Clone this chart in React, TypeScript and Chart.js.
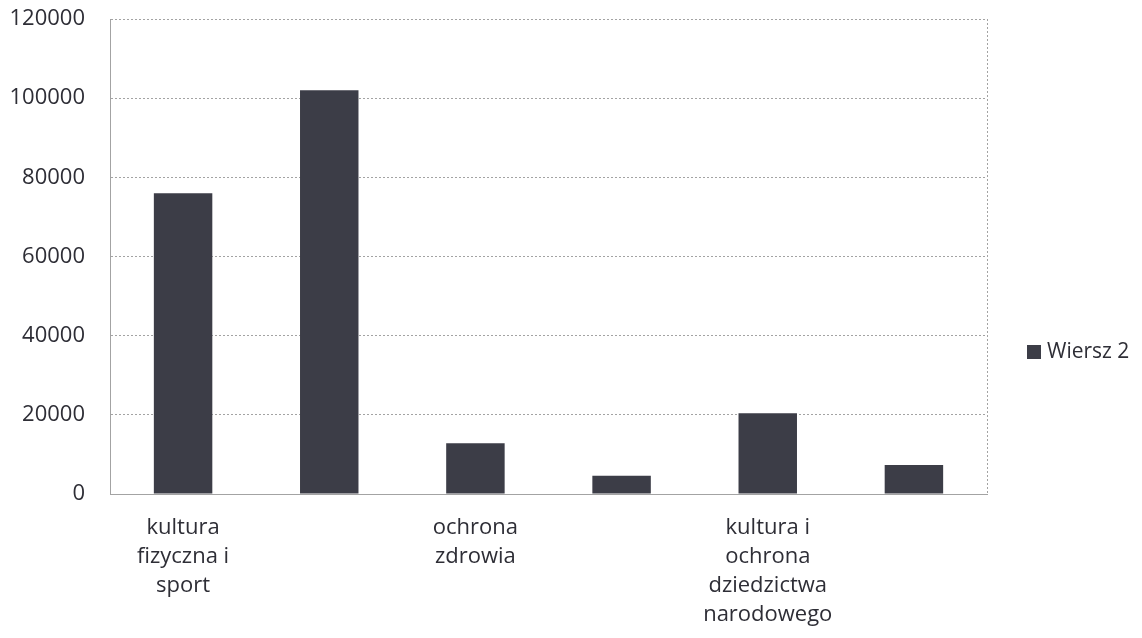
import React, { useEffect, useRef } from 'react';
import { Chart, registerables } from 'chart.js';

Chart.register(...registerables);

const categories: string[][] = [
  ['kultura', 'fizyczna i', 'sport'],
  [''],
  ['ochrona', 'zdrowia'],
  [''],
  ['kultura i', 'ochrona', 'dziedzictwa', 'narodowego'],
  [''],
];
const seriesName = 'Wiersz 2';
const values = [76000, 102000, 12800, 4600, 20400, 7300];
const yMax = 120000;
const yStep = 20000;

const FONT = '"Open Sans", sans-serif';
const BAR_COLOR = '#3c3d47';
const GRID_COLOR = '#a3a3a3';
const TEXT_COLOR = '#2e2e36';

// dotted frame on the right side + legend on the right
const framePlugin = {
  id: 'frameAndLegend',
  afterDraw(chart: Chart) {
    const { ctx, chartArea } = chart;
    ctx.save();
    ctx.strokeStyle = GRID_COLOR;
    ctx.lineWidth = 1;
    ctx.setLineDash([2, 2]);
    ctx.beginPath();
    ctx.moveTo(chartArea.right + 0.5, chartArea.top);
    ctx.lineTo(chartArea.right + 0.5, chartArea.bottom);
    ctx.stroke();
    ctx.setLineDash([]);

    const label = chart.data.datasets[0].label || '';
    const cy = 352;
    ctx.fillStyle = BAR_COLOR;
    ctx.fillRect(1027, cy - 7, 14, 14);
    ctx.fillStyle = TEXT_COLOR;
    ctx.font = `21px ${FONT}`;
    ctx.textBaseline = 'middle';
    ctx.textAlign = 'left';
    ctx.fillText(label, 1047, cy);
    ctx.restore();
  },
};

const App = () => {
  const canvasRef = useRef<HTMLCanvasElement>(null);
  const chartInstance = useRef<Chart | null>(null);

  useEffect(() => {
    if (!canvasRef.current) return;
    const ctx = canvasRef.current.getContext('2d');
    if (!ctx) return;

    if (chartInstance.current) {
      chartInstance.current.destroy();
      chartInstance.current = null;
    }

    chartInstance.current = new Chart(ctx, {
      type: 'bar',
      data: {
        labels: categories,
        datasets: [{
          label: seriesName,
          data: values,
          backgroundColor: BAR_COLOR,
          borderWidth: 0,
          barPercentage: 0.4,
          categoryPercentage: 1,
        }],
      },
      options: {
        animation: false,
        responsive: true,
        maintainAspectRatio: false,
        layout: { padding: { top: 19, right: 155, left: 0, bottom: 0 } },
        plugins: {
          legend: { display: false },
          tooltip: { enabled: false },
        },
        scales: {
          x: {
            grid: { display: false, drawTicks: false },
            border: { color: GRID_COLOR, dash: [2, 2] },
            ticks: {
              autoSkip: false,
              maxRotation: 0,
              padding: 19,
              color: TEXT_COLOR,
              font: { family: FONT, size: 22, lineHeight: 1.32 },
            },
            afterFit: (scale: any) => { scale.height = 144; },
          },
          y: {
            min: 0,
            max: yMax,
            ticks: {
              stepSize: yStep,
              padding: 25,
              color: TEXT_COLOR,
              font: { family: FONT, size: 22 },
              callback: (v: any) => String(v),
            },
            grid: { color: GRID_COLOR, drawTicks: false },
            border: { color: GRID_COLOR, dash: [2, 2] },
            afterFit: (scale: any) => {
              scale.width = 110;
              scale.paddingTop = 0;
              scale.paddingBottom = 0;
            },
          },
        },
      },
      plugins: [framePlugin],
    });

    return () => {
      if (chartInstance.current) {
        chartInstance.current.destroy();
        chartInstance.current = null;
      }
    };
  }, []);

  return (
    <div style={{ position: 'absolute', left: 0, top: 0, width: 1142, height: 638, background: '#fff' }}>
      <canvas ref={canvasRef} />
    </div>
  );
};

export default App;
